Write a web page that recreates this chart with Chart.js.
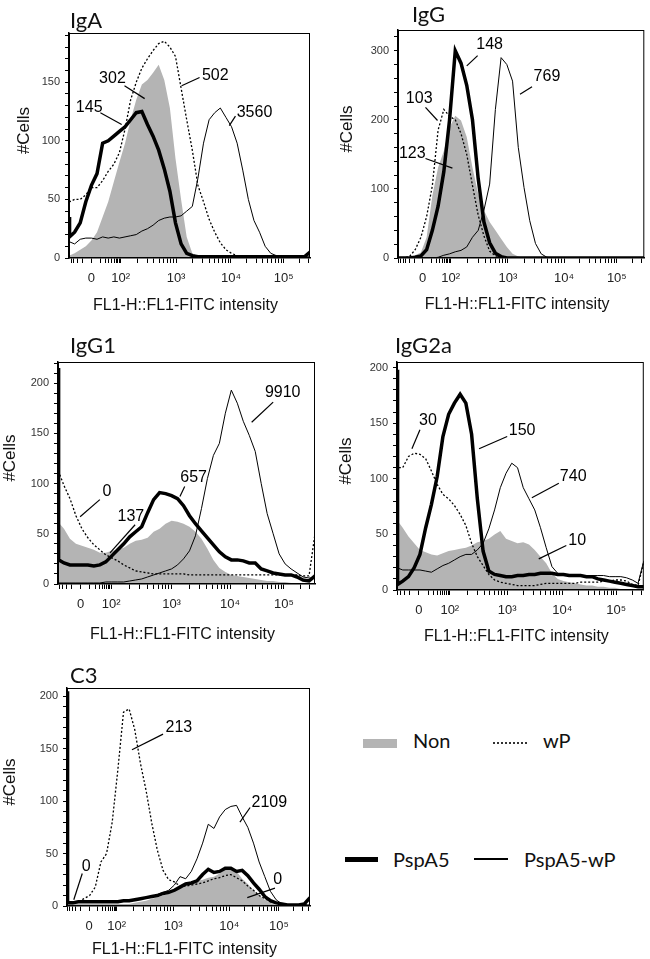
<!DOCTYPE html>
<html>
<head>
<meta charset="utf-8">
<script src="https://cdn.jsdelivr.net/npm/chart.js@4.4.1/dist/chart.umd.min.js"></script>
<style>
  body { margin: 0; background: #fff; }
  #page { position: relative; width: 650px; height: 959px; overflow: hidden; background: #fff; }
  canvas { position: absolute; }
  .lg { position: absolute; font-family: Lato, 'Open Sans', sans-serif; font-size: 20px; line-height: 24px; color: #111; white-space: nowrap; }
  .sw { position: absolute; }
</style>
</head>
<body>
<div id="page">
  <canvas id="cIgA"></canvas>
  <canvas id="cIgG"></canvas>
  <canvas id="cIgG1"></canvas>
  <canvas id="cIgG2a"></canvas>
  <canvas id="cC3"></canvas>

  <div class="sw" style="left:363px;top:739px;width:34px;height:9px;background:#b4b4b4"></div>
  <div class="lg" style="left:413px;top:728px">Non</div>
  <div class="sw" style="left:493px;top:742px;width:34px;height:0;border-top:2px dotted #333"></div>
  <div class="lg" style="left:543px;top:728px">wP</div>
  <div class="sw" style="left:345px;top:857px;width:33px;height:5px;background:#000"></div>
  <div class="lg" style="left:393px;top:847px">PspA5</div>
  <div class="sw" style="left:474px;top:858px;width:34px;height:1.5px;background:#000"></div>
  <div class="lg" style="left:524px;top:847px">PspA5-wP</div>
</div>
<script>
// x positions on the (biexponential) FL1 axis, in decade units
const xPos = [1.1, 1.11, 1.2, 1.3, 1.4, 1.5, 1.6, 1.7, 1.8, 1.9, 2.0, 2.1, 2.2, 2.3, 2.4, 2.5, 2.6, 2.7, 2.8, 2.9,
  3.0, 3.1, 3.2, 3.3, 3.4, 3.5, 3.6, 3.7, 3.8, 3.9, 4.0, 4.1, 4.2, 4.3, 4.4, 4.5, 4.6, 4.7, 4.8, 4.9, 5.0, 5.1, 5.2, 5.3, 5.4];
const xLabels = ['0', '10²', '10³', '10⁴', '10⁵'];

// IgA
const igaNon = [2,2,4,7,10,15,22,35,48,65,82,98,118,135,148,152,158,165,152,128,85,50,18,4,1,0,0,0,0,0,0,0,0,0,0,0,0,0,0,0,0,0,0,0,0];
const igaWP = [48,48,50,50,54,60,60,66,74,80,90,110,135,150,162,170,177,183,185,180,172,145,118,92,62,48,33,22,13,7,4,2,2,1,1,1,1,1,1,1,1,1,1,1,1];
const igaPsp = [35,18,22,30,48,62,72,98,100,104,108,112,118,124,125,114,104,92,76,57,30,12,4,2,1,1,1,1,1,1,1,1,1,1,1,1,1,1,1,1,1,1,1,1,5];
const igaPspWP = [14,14,12,16,17,17,16,18,17,18,17,18,19,20,23,25,28,32,34,35,35,36,40,44,68,98,118,124,128,120,112,98,75,50,32,22,10,4,2,1,1,1,1,1,1];
const igaTicks = [1.50, 2.02, 3.01, 3.99, 4.93];
const igaNotes = [['145',1.46,128,1.66,124,2.04,114],['302',1.875,153,2.09,147,2.45,136],['502',3.71,156,3.43,154,3.11,147],['3560',4.41,124,4.07,121,3.96,113]];

// IgG
const iggNon = [0,0,0,1,4,8,30,90,131,155,189,206,199,175,131,93,69,52,40,28,16,6,2,0,0,0,0,0,0,0,0,0,0,0,0,0,0,0,0,0,0,0,0,0,0];
const iggWP = [0,0,0,2,12,30,60,105,185,215,205,200,180,150,105,62,32,10,3,1,0,0,0,0,0,0,0,0,0,0,0,0,0,0,0,0,0,0,0,0,0,0,0,0,0];
const iggPsp = [0,0,0,0,1,3,12,40,75,125,200,300,282,250,200,115,52,22,7,2,0,0,0,0,0,0,0,0,0,0,0,0,0,0,0,0,0,0,0,0,0,0,0,0,0];
const iggPspWP = [0,0,0,0,0,0,0,0,1,4,6,9,11,16,30,40,69,107,215,290,280,256,160,102,54,21,6,1,0,0,0,0,0,0,0,0,0,0,0,0,0,0,0,0,0];
const iggTicks = [1.53, 2.02, 3.02, 4.00, 4.92];
const iggNotes = [['148',2.70,309,2.49,293,2.30,278],['769',3.70,263,3.44,248,3.23,237],['103',1.47,231,1.58,218,1.79,199],['123',1.35,151,1.58,144,2.05,130]];

// IgG1
const igg1Non = [62,62,55,45,40,38,36,34,31,31,33,34,36,40,43,44,46,52,55,60,63,62,60,57,52,45,35,24,16,12,9,8,7,6,5,4,3,3,2,2,1,1,1,1,1];
const igg1WP = [112,112,98,85,68,55,46,39,34,29,26,23,19,16,13,12,11,10,10,10,10,10,10,9,9,9,9,9,9,9,9,9,9,9,9,9,9,9,9,9,9,9,8,8,50];
const igg1Psp = [215,24,21,19,19,19,19,18,19,22,28,34,40,47,52,57,71,84,91,90,88,85,78,68,60,53,46,39,32,27,24,24,23,21,21,15,13,11,10,9,9,7,4,3,8];
const igg1PspWP = [1,1,1,1,1,1,1,1,1,2,2,2,2,3,4,5,7,9,11,13,15,19,25,33,48,75,105,128,140,170,193,180,162,148,132,100,70,50,30,20,15,11,7,6,6];
const igg1Ticks = [1.48, 1.99, 3.00, 3.98, 4.88];
const igg1Notes = [['9910',4.86,191,4.70,181,4.34,161],['657',3.37,106,3.22,97,3.14,87],['0',1.92,92,1.80,84,1.47,67],['137',2.32,67,2.39,59,1.97,31]];

// IgG2a
const igg2aNon = [63,63,56,48,42,36,34,32,31,33,35,36,37,38,40,43,44,46,50,53,46,44,42,43,41,36,30,24,15,10,8,7,6,5,4,4,3,3,2,2,1,1,1,1,1];
const igg2aWP = [170,110,110,120,123,122,118,107,95,86,82,76,68,58,42,30,22,14,9,7,6,5,4,4,4,4,5,6,6,6,6,6,6,7,7,7,7,8,8,9,9,8,5,4,25];
const igg2aPsp = [198,5,8,12,20,32,56,77,102,138,158,168,176,168,140,82,35,17,14,13,12,12,13,13,14,14,15,15,15,14,14,13,13,13,12,12,10,9,8,7,6,5,4,3,3];
const igg2aPspWP = [20,20,18,18,18,18,17,16,19,22,24,27,30,32,32,36,42,55,72,92,105,114,110,92,82,72,56,38,21,15,14,13,13,13,13,13,13,13,12,12,12,11,9,6,26];
const igg2aTicks = [1.48, 2.02, 3.02, 3.98, 4.92];
const igg2aNotes = [['30',1.64,152,1.50,144,1.36,127],['150',3.28,143,3.02,138,2.53,127],['740',4.17,102,3.92,96,3.45,83],['10',4.24,44,4.05,40,3.57,28]];

// C3
const c3Non = [2,2,2,2,2,2,2,2,2,2,2,2,2,3,4,5,7,8,10,12,14,17,21,23,24,25,27,28,31,35,37,33,26,21,15,10,6,3,1,0,0,0,0,0,0];
const c3WP = [3,3,3,4,7,10,18,42,50,80,130,185,188,168,136,110,79,53,34,25,23,19,19,20,21,22,24,26,27,29,30,27,24,19,15,10,7,4,3,2,1,1,1,1,1];
const c3Psp = [205,3,3,4,4,4,4,4,4,4,4,5,5,6,7,8,9,10,12,13,15,18,21,22,24,30,35,32,33,36,36,33,34,29,22,16,9,5,3,2,1,1,1,2,8];
const c3PspWP = [4,4,4,4,4,4,4,4,4,4,5,5,6,6,7,8,9,11,13,15,20,28,26,33,45,60,78,74,85,92,95,96,85,75,60,42,28,14,6,2,1,1,1,1,1];
const c3Ticks = [1.49, 1.98, 2.98, 3.97, 4.85];
const c3Notes = [['213',3.08,170,2.80,164,2.25,149],['2109',4.68,99,4.34,94,4.16,80],['0',1.44,38,1.37,31,1.22,6],['0',4.83,25,4.78,17,4.29,8]];

const sans = "'Liberation Sans', Arial, sans-serif";

// frame, panel title, axis titles and the numbered call-outs
const panelText = {
  id: 'panelText',
  afterDraw(chart, args, o) {
    const { ctx, chartArea: a, scales } = chart;
    const px = v => scales.x.getPixelForValue(v);
    const py = v => scales.y.getPixelForValue(v);
    ctx.save();
    ctx.strokeStyle = '#000';
    ctx.lineWidth = 1;
    ctx.strokeRect(a.left + 0.5, a.top + 0.5, a.width - 1, a.height - 1);

    ctx.fillStyle = '#000';
    ctx.font = '16px ' + sans;
    ctx.textAlign = 'center';
    ctx.textBaseline = 'middle';
    o.notes.forEach(n => {
      ctx.fillText(n[0], px(n[1]), py(n[2]));
      ctx.beginPath();
      ctx.moveTo(px(n[3]), py(n[4]));
      ctx.lineTo(px(n[5]), py(n[6]));
      ctx.lineWidth = 1.2;
      ctx.stroke();
    });

    ctx.fillStyle = '#111';
    ctx.font = '22px Lato';
    ctx.textAlign = 'left';
    ctx.textBaseline = 'alphabetic';
    ctx.fillText(o.title, a.left + o.tdx, a.top - o.tdy);

    ctx.font = '16px ' + sans;
    ctx.textAlign = 'center';
    ctx.textBaseline = 'middle';
    ctx.fillText('FL1-H::FL1-FITC intensity', (a.left + a.right) / 2 - 4, a.bottom + o.xdy);

    ctx.save();
    ctx.translate(a.left + o.ydx, (a.top + a.bottom) / 2 - 15);
    ctx.rotate(-Math.PI / 2);
    ctx.font = '17px ' + sans;
    ctx.fillText('#Cells', 0, 0);
    ctx.restore();
    ctx.restore();
  }
};

function minorTicks(majors) {
  const fr = [2, 3, 4, 5, 6, 7, 8, 9].map(k => Math.log10(k));
  const out = majors.slice();
  for (let i = 0; i < majors.length - 1; i++) {
    fr.forEach(f => out.push(majors[i] + (majors[i + 1] - majors[i]) * f));
  }
  const d = majors[1] - majors[0];
  fr.forEach(f => { const v = majors[0] - d * f; if (v > 1.1) out.push(v); });
  const last = majors[majors.length - 1], dd = majors[4] - majors[3];
  fr.forEach(f => { const v = last + dd * f; if (v < 5.4) out.push(v); });
  return out.sort((a, b) => a - b);
}

function makePanel(id, geo, non, wp, psp, pspwp, yMax, yStep, yLab, majors, notes, txt) {
  const cv = document.getElementById(id);
  cv.width = geo.w; cv.height = geo.h;
  cv.style.left = geo.x + 'px'; cv.style.top = geo.y + 'px';
  const pts = arr => xPos.map((x, i) => ({ x: x, y: arr[i] }));
  const xt = minorTicks(majors);
  const yt = [];
  for (let v = 0; v <= yMax; v += yStep) yt.push(v);

  new Chart(cv, {
    type: 'line',
    data: {
      datasets: [
        { label: 'PspA5', data: pts(psp), borderColor: '#000', borderWidth: 3.5, order: 0 },
        { label: 'PspA5-wP', data: pts(pspwp), borderColor: '#000', borderWidth: 1, order: 1 },
        { label: 'wP', data: pts(wp), borderColor: '#000', borderWidth: 1.3, borderDash: [2, 2], order: 2 },
        { label: 'Non', data: pts(non), borderColor: 'rgba(0,0,0,0)', borderWidth: 0, backgroundColor: '#b4b4b4', fill: 'origin', order: 3 }
      ]
    },
    options: {
      responsive: false,
      animation: false,
      devicePixelRatio: 1,
      layout: { padding: { top: geo.pt, right: geo.pr, left: 0, bottom: 0 }, autoPadding: false },
      elements: { point: { radius: 0 }, line: { tension: 0 } },
      plugins: {
        legend: { display: false },
        tooltip: { enabled: false },
        panelText: txt
      },
      scales: {
        x: {
          type: 'linear', min: 1.1, max: 5.4,
          afterBuildTicks: s => { s.ticks = xt.map(v => ({ value: v })); },
          afterFit: s => { s.height = geo.xh; },
          grid: { display: true, drawOnChartArea: false, drawTicks: true, tickLength: 5, color: '#000' },
          border: { display: true, color: '#000', width: 1.5 },
          ticks: {
            autoSkip: false, maxRotation: 0, minRotation: 0, padding: 8, color: '#222',
            font: { family: sans, size: 13 },
            callback: v => { const i = majors.findIndex(m => Math.abs(m - v) < 1e-9); return i >= 0 ? xLabels[i] : ''; }
          }
        },
        y: {
          type: 'linear', min: 0, max: yMax,
          afterBuildTicks: s => { s.ticks = yt.map(v => ({ value: v })); },
          afterFit: s => { s.width = geo.yw; },
          grid: { display: true, drawOnChartArea: false, drawTicks: true, tickLength: 4, color: '#000' },
          border: { display: true, color: '#000', width: 1.5 },
          ticks: {
            autoSkip: false, padding: 5, color: '#333',
            font: { family: sans, size: 11 },
            callback: v => (v % yLab === 0 ? String(v) : '')
          }
        }
      }
    },
    plugins: [panelText]
  });
}

makePanel('cIgA', { x: 13, y: 0, w: 305, h: 318, pt: 33, pr: 8, yw: 56, xh: 60 },
  igaNon, igaWP, igaPsp, igaPspWP, 192, 10, 50, igaTicks, igaNotes,
  { notes: igaNotes, title: 'IgA', tdx: 1, tdy: 5, ydx: -45, xdy: 48 });
makePanel('cIgG', { x: 337, y: 0, w: 313, h: 318, pt: 30, pr: 5, yw: 61, xh: 60 },
  iggNon, iggWP, iggPsp, iggPspWP, 330, 20, 100, iggTicks, iggNotes,
  { notes: iggNotes, title: 'IgG', tdx: 14, tdy: 8, ydx: -51, xdy: 47 });
makePanel('cIgG1', { x: 0, y: 320, w: 323, h: 324, pt: 42, pr: 8, yw: 58, xh: 60 },
  igg1Non, igg1WP, igg1Psp, igg1PspWP, 221, 10, 50, igg1Ticks, igg1Notes,
  { notes: igg1Notes, title: 'IgG1', tdx: 12, tdy: 9, ydx: -48, xdy: 51 });
makePanel('cIgG2a', { x: 335, y: 320, w: 315, h: 330, pt: 42, pr: 4, yw: 62, xh: 60 },
  igg2aNon, igg2aWP, igg2aPsp, igg2aPspWP, 205, 10, 50, igg2aTicks, igg2aNotes,
  { notes: igg2aNotes, title: 'IgG2a', tdx: -2, tdy: 9, ydx: -51, xdy: 47 });
makePanel('cC3', { x: 0, y: 650, w: 318, h: 309, pt: 38, pr: 8, yw: 67, xh: 53 },
  c3Non, c3WP, c3Psp, c3PspWP, 208, 10, 50, c3Ticks, c3Notes,
  { notes: c3Notes, title: 'C3', tdx: 3, tdy: 5, ydx: -57, xdy: 44 });
</script>
</body>
</html>
